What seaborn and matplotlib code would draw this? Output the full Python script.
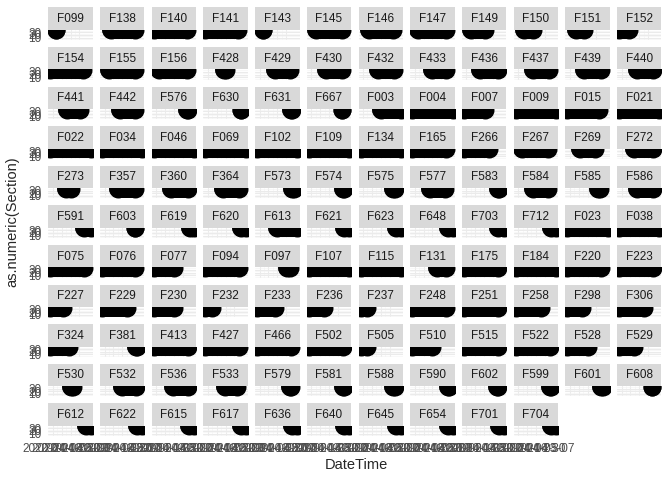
import numpy as np
import pandas as pd
import matplotlib
matplotlib.use('Agg')
import matplotlib.pyplot as plt
from matplotlib.patches import Rectangle
import seaborn as sns

# facility panels, in facet order
facilities = [
    'F099', 'F138', 'F140', 'F141', 'F143', 'F145', 'F146', 'F147', 'F149', 'F150', 'F151', 'F152',
    'F154', 'F155', 'F156', 'F428', 'F429', 'F430', 'F432', 'F433', 'F436', 'F437', 'F439', 'F440',
    'F441', 'F442', 'F576', 'F630', 'F631', 'F667', 'F003', 'F004', 'F007', 'F009', 'F015', 'F021',
    'F022', 'F034', 'F046', 'F069', 'F102', 'F109', 'F134', 'F165', 'F266', 'F267', 'F269', 'F272',
    'F273', 'F357', 'F360', 'F364', 'F573', 'F574', 'F575', 'F577', 'F583', 'F584', 'F585', 'F586',
    'F591', 'F603', 'F619', 'F620', 'F613', 'F621', 'F623', 'F648', 'F703', 'F712', 'F023', 'F038',
    'F075', 'F076', 'F077', 'F094', 'F097', 'F107', 'F115', 'F131', 'F175', 'F184', 'F220', 'F223',
    'F227', 'F229', 'F230', 'F232', 'F233', 'F236', 'F237', 'F248', 'F251', 'F258', 'F298', 'F306',
    'F324', 'F381', 'F413', 'F427', 'F466', 'F502', 'F505', 'F510', 'F515', 'F522', 'F528', 'F529',
    'F530', 'F532', 'F536', 'F533', 'F579', 'F581', 'F588', 'F590', 'F602', 'F599', 'F601', 'F608',
    'F612', 'F622', 'F615', 'F617', 'F636', 'F640', 'F645', 'F654', 'F701', 'F704',
]

# days after 2020-04-14 of first and last record per facility
first_day = [
    4.5, 7, 0, 0, 4.5, 5.5, 6.5, 4.5, 5.5, 7, 6.5, 0,
    0, 5.5, 4, 14.5, 14, 13.5, 14, 16, 13, 13.5, 13, 14,
    13.5, 14, 26, 28, 27, 26.5, 16.5, 0, 0, 0, 0, 0,
    0, 0, 0, 0, 0, 0, 0, 0, 0, 5, 10, 12,
    12.5, 12.5, 13.5, 14, 28, 27, 26, 14, 27, 14, 24, 14,
    27, 26.5, 28.5, 28, 16, 28, 28, 28, 27, 28, 0, 0,
    0, 0, 0, 0, 24, 0, 0, 20, 0, 0, 0, 0,
    0, 0, 0, 0, 0, 0, 0, 0, 0, 0, 0, 0,
    0, 27, 0, 0, 0, 0, 0, 0, 0, 0, 0, 0,
    16, 15.5, 15.5, 15.5, 26, 27, 26, 28, 26, 27, 27, 26,
    28, 28, 28, 28, 28, 28, 28, 28, 28, 28,
]
last_day = [
    4.5, 26.5, 26.5, 26, 4.5, 26.5, 26, 26.5, 17, 14, 13, 8,
    26, 26, 26, 16, 26, 26, 26.5, 27, 27, 26.5, 27, 27,
    23.5, 26, 27.5, 28.5, 28, 26.5, 32, 32, 17, 32, 25, 32,
    32, 32, 32, 32, 32, 32, 32, 27, 20, 26, 22, 27,
    16.5, 26, 27, 27, 29, 28, 27, 26, 28, 26, 26, 27,
    32, 26.5, 32, 32, 32, 32, 32, 32, 32, 32, 32, 32,
    26.5, 26.5, 16, 27, 26, 32, 32, 27, 27, 32, 27, 27,
    10, 20, 16, 5, 14, 12, 5, 27, 27, 20, 12, 20,
    15, 28, 27, 27, 27, 27, 5, 16, 27, 27, 16, 12,
    17.8, 27, 27, 25, 27, 28, 27, 29, 27, 28, 28, 26,
    32, 32, 32, 32, 32, 32, 32, 32, 32, 32,
]
section = [37] * len(facilities)

start = pd.Timestamp('2020-04-14')
week_ticks = pd.to_datetime(['2020-04-16', '2020-04-23', '2020-04-30', '2020-05-07'])
y_ticks = [10, 20, 30]

rows = []
for fac, d0, d1, s in zip(facilities, first_day, last_day, section):
    rows.append({'Facility': fac, 'DateTime': start + pd.Timedelta(days=d0), 'Section': s})
    rows.append({'Facility': fac, 'DateTime': start + pd.Timedelta(days=d1), 'Section': s})
df = pd.DataFrame(rows)

sns.set_style('white')
plt.rcParams['font.family'] = ['Liberation Sans', 'DejaVu Sans']

W, H = 672, 480
fig = plt.figure(figsize=(W / 96, H / 96), dpi=96)


def rect(x, y, w, h):
    return [x / W, 1 - (y + h) / H, w / W, h / H]


left0, pitch_x, pw = 48.3, 51.7, 44.4
top0, strip_h, ph, pitch_y = 7.3, 22.5, 10.2, 39.6
ncol = 12

dmin, dmax = df['DateTime'].min(), df['DateTime'].max()
pad = (dmax - dmin) * 0.05
n = len(facilities)
last_row = (n - 1) // ncol

for i, fac in enumerate(facilities):
    r, c = divmod(i, ncol)
    x = left0 + c * pitch_x
    y = top0 + r * pitch_y
    fig.add_artist(Rectangle((x / W, 1 - (y + strip_h) / H), pw / W, strip_h / H,
                             transform=fig.transFigure, facecolor='#D9D9D9', edgecolor='none'))
    fig.text((x + pw / 2) / W, 1 - (y + strip_h / 2 + 0.5) / H, fac, ha='center', va='center',
             fontsize=8.8, color='#1A1A1A')

    ax = fig.add_axes(rect(x, y + strip_h, pw, ph))
    sub = df[df['Facility'] == fac]
    sns.lineplot(data=sub, x='DateTime', y='Section', ax=ax, color='black', linewidth=13.5,
                 solid_capstyle='round', estimator=None, legend=False)
    sns.scatterplot(data=sub, x='DateTime', y='Section', ax=ax, color='black', s=182,
                    linewidth=0, legend=False)

    ax.set_xlim(dmin - pad, dmax + pad)
    ax.set_ylim(1, 39)
    ax.set_xticks(week_ticks)
    ax.set_xticks(week_ticks[:-1] + pd.Timedelta(days=3.5), minor=True)
    ax.set_yticks(y_ticks)
    ax.set_yticks([5, 15, 25, 35], minor=True)
    ax.grid(True, which='major', color='#EBEBEB', linewidth=0.8)
    ax.grid(True, which='minor', color='#F2F2F2', linewidth=0.4)
    ax.set_axisbelow(True)
    for sp in ax.spines.values():
        sp.set_visible(False)
    ax.set_xlabel('')
    ax.set_ylabel('')
    ax.tick_params(which='major', length=2.75, width=0.5, color='#333333',
                   labelsize=8.8, labelcolor='#4D4D4D', pad=2.2)
    ax.tick_params(which='minor', length=0)

    if c == 0:
        ax.set_yticklabels([str(v) for v in y_ticks])
    else:
        ax.tick_params(axis='y', which='major', length=0, labelleft=False)
    if r == last_row:
        ax.set_xticklabels([d.strftime('%Y-%m-%d') for d in week_ticks])
    else:
        ax.tick_params(axis='x', which='major', length=0, labelbottom=False)

fig.text(356 / W, 1 - 465 / H, 'DateTime', ha='center', va='center', fontsize=11)
fig.text(12 / W, 1 - 222 / H, 'as.numeric(Section)', ha='center', va='center',
         fontsize=11, rotation=90)

plt.savefig('out.png', dpi=96)
